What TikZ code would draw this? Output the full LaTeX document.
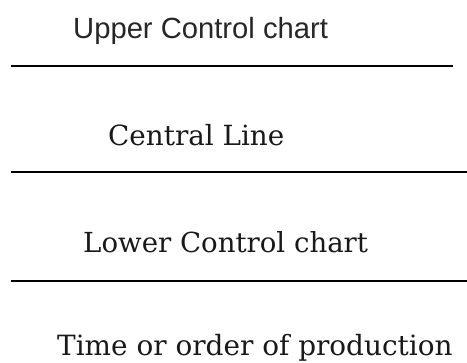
\documentclass[tikz,border=0pt]{standalone}
\usepackage{fontspec}
\setmainfont{DejaVu Serif}
\newfontfamily\arialfont{Liberation Sans}
\begin{document}
\begin{tikzpicture}[x=1pt,y=-1pt,
  lbl/.style={anchor=base west,inner sep=0pt,text=black!90},
  rule/.style={line width=1.4pt,black}]
\useasboundingbox (0,0) rectangle (467,363);
\node[lbl,font=\arialfont\fontsize{29.2}{32}\selectfont,text=black!85] (ucl) at (73,39) {Upper Control chart};
\coordinate (u1) at (11,66); \coordinate (u2) at (453,66);
\draw[rule] (u1) -- (u2);
\node[lbl,font=\fontsize{27.8}{30}\selectfont] (cl) at (108,146) {Central Line};
\coordinate (c1) at (11,172); \coordinate (c2) at (467,172);
\draw[rule] (c1) -- (c2);
\node[lbl,font=\fontsize{27.6}{30}\selectfont] (lcl) at (83,253) {Lower Control chart};
\coordinate (l1) at (11,281); \coordinate (l2) at (467,281);
\draw[rule] (l1) -- (l2);
\node[lbl,font=\fontsize{27.9}{30}\selectfont] (t) at (57,356) {Time or order of production};
\end{tikzpicture}
\end{document}
